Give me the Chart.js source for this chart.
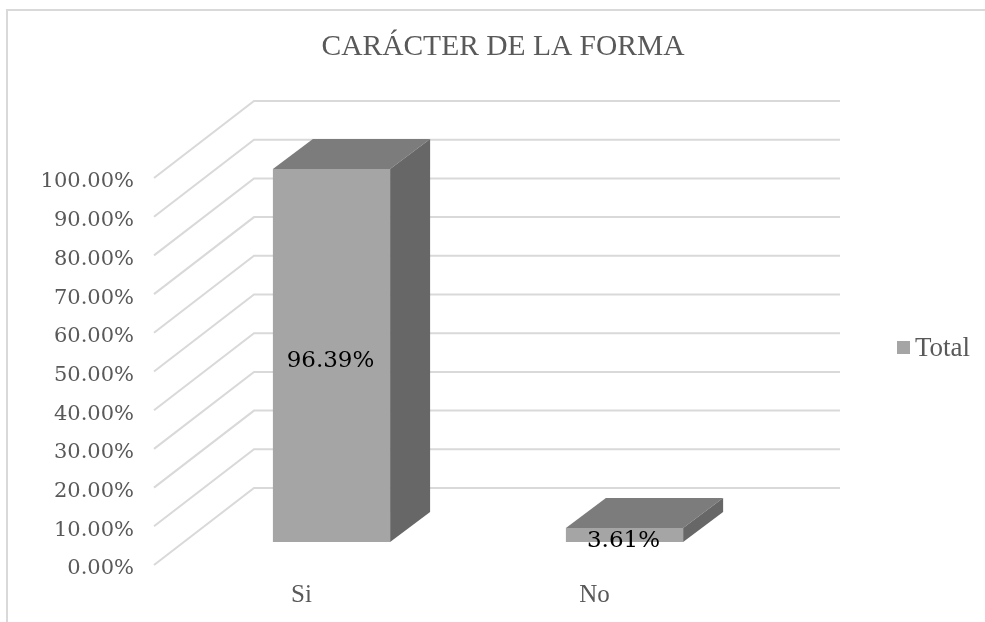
<!DOCTYPE html>
<html>
<head>
<meta charset="utf-8">
<style>html,body{margin:0;padding:0;background:#fff}canvas{display:block}</style>
<script src="https://cdn.jsdelivr.net/npm/chart.js@4/dist/chart.umd.min.js"></script>
</head>
<body>
<canvas id="c" width="985" height="622"></canvas>
<script>
const categories = ["Si", "No"];
const seriesName = "Total";
const totalValues = [96.39, 3.61];
const chartTitle = "CARÁCTER DE LA FORMA";

const serif = "'Liberation Serif', serif";
const numFont = "'DejaVu Serif', serif";
const wall = {dx: 100, dy: -77};
const barShift = {dx: 30, dy: -23};
const barDepth = {dx: 40, dy: -30};
const colors = {front: "#a5a5a5", top: "#7c7c7c", side: "#676767", grid: "#d9d9d9", text: "#595959"};

const poly = (ctx, pts, fill) => {
  ctx.beginPath();
  pts.forEach((p, i) => i ? ctx.lineTo(p[0], p[1]) : ctx.moveTo(p[0], p[1]));
  ctx.closePath();
  ctx.fillStyle = fill;
  ctx.fill();
};

const scene3d = {
  id: "scene3d",
  afterLayout(chart) {
    chart.titleBlock.left = 0;
    chart.titleBlock.right = 1006;
  },
  beforeDraw(chart) {
    const ctx = chart.ctx;
    ctx.save();
    ctx.fillStyle = "#fff";
    ctx.fillRect(0, 0, chart.width, chart.height);
    ctx.strokeStyle = colors.grid;
    ctx.lineWidth = 2;
    ctx.beginPath();
    ctx.moveTo(7, chart.height);
    ctx.lineTo(7, 10);
    ctx.lineTo(chart.width, 10);
    ctx.stroke();
    ctx.restore();
  },
  beforeDatasetsDraw(chart) {
    const ctx = chart.ctx, y = chart.scales.y, area = chart.chartArea;
    ctx.save();
    ctx.strokeStyle = colors.grid;
    ctx.lineWidth = 2;
    y.ticks.forEach(t => {
      const py = y.getPixelForValue(t.value);
      ctx.beginPath();
      ctx.moveTo(area.left - 1, py);
      ctx.lineTo(area.left + wall.dx - 1, py + wall.dy);
      ctx.lineTo(840, py + wall.dy);
      ctx.stroke();
    });
    ctx.translate(barShift.dx, barShift.dy);
    chart.getDatasetMeta(0).data.forEach(b => {
      const l = b.x - b.width / 2, r = b.x + b.width / 2;
      poly(ctx, [[l, b.y], [r, b.y], [r + barDepth.dx, b.y + barDepth.dy], [l + barDepth.dx, b.y + barDepth.dy]], colors.top);
      poly(ctx, [[r, b.y], [r + barDepth.dx, b.y + barDepth.dy], [r + barDepth.dx, b.base + barDepth.dy], [r, b.base]], colors.side);
    });
  },
  afterDatasetsDraw(chart) {
    const ctx = chart.ctx;
    chart.getDatasetMeta(0).data.forEach((b, i) => {
      ctx.fillStyle = "#000";
      ctx.font = "23px " + numFont;
      ctx.textAlign = "center";
      ctx.textBaseline = "middle";
      ctx.fillText(totalValues[i].toFixed(2) + "%", b.x - 1, (b.y + b.base) / 2 + 6);
    });
    ctx.restore();
    ctx.save();
    ctx.fillStyle = colors.front;
    ctx.fillRect(897, 341, 13, 13);
    ctx.fillStyle = colors.text;
    ctx.font = "27px " + serif;
    ctx.textAlign = "left";
    ctx.textBaseline = "middle";
    ctx.fillText(seriesName, 915, 349);
    ctx.restore();
  }
};

new Chart(document.getElementById("c"), {
  type: "bar",
  data: {
    labels: categories,
    datasets: [{
      label: seriesName,
      data: totalValues,
      backgroundColor: colors.front,
      borderWidth: 0,
      barPercentage: 0.4,
      categoryPercentage: 1,
      clip: false
    }]
  },
  plugins: [scene3d],
  options: {
    responsive: false,
    animation: false,
    layout: {padding: {left: 0, right: 244, top: 0, bottom: 0}},
    plugins: {
      legend: {display: false},
      tooltip: {enabled: false},
      title: {
        display: true,
        text: chartTitle,
        color: colors.text,
        font: {family: serif, size: 29.5, weight: "normal"},
        padding: {top: 30, bottom: 112.6}
      }
    },
    scales: {
      x: {
        grid: {display: false, drawTicks: false},
        border: {display: false},
        afterFit: s => { s.height = 57; },
        ticks: {color: colors.text, font: {family: serif, size: 25}, padding: 15, maxRotation: 0}
      },
      y: {
        min: 0, max: 100,
        grid: {display: false, drawTicks: false},
        border: {display: false},
        afterFit: s => { s.width = 155; },
        ticks: {
          stepSize: 10,
          color: colors.text,
          font: {family: numFont, size: 21},
          padding: 21,
          labelOffset: 4,
          callback: v => v.toFixed(2) + "%"
        }
      }
    }
  }
});
</script>
</body>
</html>
